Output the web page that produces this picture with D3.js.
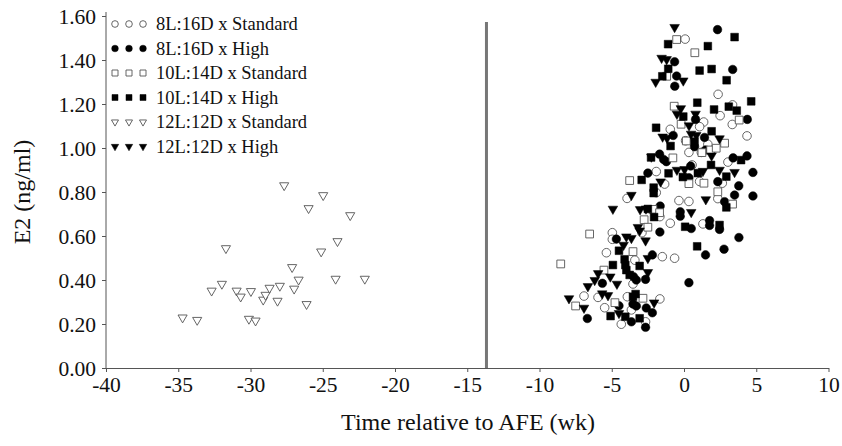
<!DOCTYPE html>
<html>
<head>
<meta charset="utf-8">
<script src="https://cdn.jsdelivr.net/npm/d3@7"></script>
<style>
  body { margin: 0; background: #fff; }
  svg { display: block; font-family: "Liberation Serif", "Times New Roman", serif; }
  .axis path, .axis line { stroke: #555; }
  .axis-title { font-size: 24px; fill: #111; }
  .legend-label { font-size: 18.5px; fill: #111; }
</style>
</head>
<body>
<svg id="chart" width="842" height="446"></svg>
<script>
// tick values
const xTicks = [-40, -35, -30, -25, -20, -15, -10, -5, 0, 5, 10];
const yTicks = [0, 0.2, 0.4, 0.6, 0.8, 1.0, 1.2, 1.4, 1.6];
const afeLine = -13.67;

const seriesNames = [
  '8L:16D x Standard', '8L:16D x High',
  '10L:14D x Standard', '10L:14D x High',
  '12L:12D x Standard', '12L:12D x High'
];

// [week, E2 ng/ml]
const std8L = [
  [0.08,1.495],[2.36,1.244],[3.36,1.196],[2.50,1.147],[3.34,1.107],[1.36,1.118],[1.08,1.097],
  [-0.95,1.085],[4.36,1.055],[0.11,1.033],[1.65,1.017],[0.34,0.980],[1.20,0.980],[0.56,0.923],
  [3.04,0.936],[-1.92,0.893],[-1.34,0.836],[1.08,0.848],[2.65,0.840],[-1.92,0.797],[-3.94,0.771],
  [2.34,0.770],[-0.35,0.761],[0.34,0.757],[-1.67,0.688],[-0.95,0.658],[1.31,0.655],[-4.96,0.615],
  [-4.96,0.585],[-2.91,0.615],[-5.37,0.524],[-1.50,0.506],[-0.65,0.499],[-3.40,0.490],[-3.53,0.382],
  [-6.92,0.327],[-5.95,0.321],[-3.92,0.324],[-1.67,0.314],[-5.49,0.274],[-3.64,0.264],[-4.34,0.199],
  [-2.66,0.210]
];
const high8L = [
  [2.32,1.538],[-0.65,1.392],[3.37,1.357],[-0.51,1.327],[-0.64,1.281],[0.80,1.130],[4.38,1.130],
  [-0.75,1.057],[1.42,1.048],[0.73,1.006],[1.49,0.991],[-1.69,0.972],[-1.41,0.948],[-1.22,0.938],
  [3.40,0.955],[4.36,0.964],[0.46,0.918],[4.77,0.889],[-2.50,0.886],[0.34,0.865],[2.34,0.847],
  [3.79,0.828],[3.50,0.786],[4.77,0.782],[2.81,0.756],[-1.65,0.736],[-0.26,0.710],[-0.26,0.690],
  [1.77,0.670],[1.77,0.648],[0.50,0.634],[2.46,0.630],[-1.67,0.618],[-4.68,0.586],[3.80,0.593],
  [2.77,0.540],[1.49,0.514],[-2.19,0.514],[-3.49,0.415],[-5.65,0.385],[-3.30,0.400],[-2.66,0.403],
  [0.34,0.388],[-4.50,0.283],[-3.53,0.291],[-3.30,0.282],[-2.61,0.273],[-2.19,0.251],[-6.69,0.225],
  [-3.64,0.210],[-2.66,0.185]
];
const std10L = [
  [-0.51,1.493],[0.75,1.433],[-1.20,1.326],[-0.68,1.190],[3.82,1.127],[-0.20,1.108],[0.16,1.032],
  [2.81,1.022],[1.24,0.979],[1.84,0.991],[2.23,0.999],[-0.77,0.955],[-3.76,0.852],[0.34,0.838],
  [1.38,0.840],[2.34,0.801],[3.36,0.745],[-2.15,0.721],[-1.69,0.706],[-2.76,0.674],[-6.53,0.609],
  [-2.50,0.640],[-3.53,0.529],[-8.53,0.473],[-5.54,0.445],[-4.78,0.297],[-2.84,0.317],[-7.50,0.282]
];
const high10L = [
  [3.50,1.504],[-1.10,1.472],[1.65,1.463],[-1.09,1.360],[1.08,1.352],[1.91,1.359],[-1.50,1.326],
  [2.95,1.308],[4.65,1.212],[0.92,1.206],[2.08,1.175],[3.10,1.188],[3.65,1.170],[-0.05,1.143],
  [-1.93,1.092],[1.91,1.076],[-0.93,1.009],[0.73,1.029],[-2.28,0.957],[3.95,0.945],[1.87,0.923],
  [-1.07,0.885],[0.96,0.886],[-0.08,0.868],[2.93,0.870],[-2.93,0.855],[-2.10,0.820],[-2.10,0.795],
  [2.93,0.730],[-2.50,0.723],[-2.07,0.686],[0.08,0.642],[2.46,0.650],[0.91,0.553],[-4.50,0.533],
  [-4.11,0.494],[-4.92,0.468],[-4.06,0.468],[-3.99,0.445],[-3.07,0.464],[-3.76,0.423],[-3.53,0.324],
  [-3.35,0.336],[-5.08,0.236],[-4.06,0.233],[-3.07,0.226]
];
const std12L = [
  [-34.70,0.229],[-33.69,0.218],[-32.69,0.351],[-31.98,0.382],[-31.70,0.544],[-30.96,0.351],
  [-30.68,0.324],[-29.97,0.349],[-30.11,0.223],[-29.65,0.215],[-29.12,0.310],[-28.96,0.332],
  [-28.68,0.364],[-28.13,0.305],[-27.97,0.373],[-27.67,0.830],[-27.12,0.458],[-26.98,0.360],
  [-26.67,0.401],[-26.12,0.290],[-25.98,0.726],[-25.11,0.529],[-24.97,0.785],[-24.11,0.405],
  [-23.98,0.576],[-23.10,0.694],[-22.09,0.405]
];
const high12L = [
  [-0.65,1.549],[-1.55,1.409],[-1.20,1.403],[-1.96,1.300],[-0.05,1.306],[-0.22,1.180],[-0.49,1.155],
  [0.80,1.155],[0.35,1.102],[-1.48,1.051],[-1.17,1.045],[0.49,1.064],[0.85,1.058],[2.46,1.043],
  [-2.26,0.960],[1.91,0.965],[-0.49,0.900],[0.04,0.903],[1.31,0.895],[2.46,0.900],[3.50,0.890],
  [-1.62,0.847],[-3.64,0.786],[1.51,0.766],[-4.92,0.723],[-3.04,0.721],[-2.63,0.724],[0.50,0.708],
  [-3.19,0.640],[-3.07,0.624],[-3.99,0.597],[-3.64,0.590],[-2.66,0.579],[-4.18,0.559],[-2.50,0.499],
  [-2.50,0.435],[-5.94,0.430],[-6.18,0.399],[-6.65,0.371],[-5.10,0.415],[-4.64,0.382],[-7.96,0.316],
  [-5.66,0.338],[-5.26,0.330],[-2.07,0.297],[-6.92,0.273],[-4.50,0.249]
];

class ScatterPlot {

    constructor(_config, _series) {
        this.config = {
            parentElement: _config.parentElement,
            margin: { top: 16, bottom: 78, right: 13, left: 106 }
        }
        this.series = _series;
        this.initVis();
    }

    initVis() {
        let vis = this;

        vis.svg = d3.select(vis.config.parentElement);
        vis.width = 842 - vis.config.margin.left - vis.config.margin.right;
        vis.height = 446 - vis.config.margin.top - vis.config.margin.bottom;

        vis.chart = vis.svg.append('g')
            .attr('transform', `translate(${vis.config.margin.left}, ${vis.config.margin.top})`);

        vis.xScale = d3.scaleLinear().domain([-40, 10]).range([0, vis.width - 0.5]);
        vis.yScale = d3.scaleLinear().domain([0, 1.6]).range([vis.height, 0]);

        vis.xAxis = d3.axisBottom(vis.xScale)
            .tickValues(xTicks)
            .tickSize(4)
            .tickSizeOuter(0)
            .tickPadding(3)
            .tickFormat(d => d);
        vis.yAxis = d3.axisLeft(vis.yScale)
            .tickValues(yTicks)
            .tickSize(4)
            .tickSizeOuter(0)
            .tickPadding(6)
            .tickFormat(d3.format('.2f'));
    }

    renderVis() {
        let vis = this;

        vis.xAxisGroup = vis.chart.append('g')
            .attr('class', 'axis x-axis')
            .attr('transform', `translate(0,${vis.height})`)
            .call(vis.xAxis);
        vis.yAxisGroup = vis.chart.append('g')
            .attr('class', 'axis y-axis')
            .call(vis.yAxis);
        vis.yAxisGroup.select('.domain').attr('d', `M0,-4V${vis.height}`);

        // d3 puts a sans-serif font on the axis group, override it on the labels
        vis.chart.selectAll('.axis')
            .attr('font-family', null)
            .attr('font-size', null);
        vis.chart.selectAll('.axis text')
            .style('font-family', '"Liberation Serif", "Times New Roman", serif')
            .style('font-size', '21.5px')
            .attr('fill', '#111');
        vis.xAxisGroup.selectAll('text').attr('dy', '0.8em');
        vis.yAxisGroup.selectAll('text').attr('dy', '0.35em');

        // AFE reference line
        vis.chart.append('line')
            .attr('x1', vis.xScale(afeLine))
            .attr('x2', vis.xScale(afeLine))
            .attr('y1', 6)
            .attr('y2', vis.height)
            .attr('stroke', '#777')
            .attr('stroke-width', 3);

        vis.series.forEach(s => {
            const sym = d3.symbol().type(s.shape).size(s.size);
            vis.chart.append('g')
                .selectAll('path')
                .data(s.values)
                .join('path')
                    .attr('d', sym)
                    .attr('transform', d => `translate(${vis.xScale(d[0])},${vis.yScale(d[1])})${s.flip ? ' rotate(180)' : ''}`)
                    .attr('fill', s.open ? '#fff' : '#000')
                    .attr('stroke', s.open ? '#555' : '#000')
                    .attr('stroke-width', s.open ? 0.9 : 0.5);
        });

        // legend
        vis.legend = vis.svg.append('g');
        vis.series.forEach((s, i) => {
            const ly = 24 + i * 24.5;
            const sym = d3.symbol().type(s.shape).size(s.size * 0.6);
            [115, 129, 143].forEach(lx => {
                vis.legend.append('path')
                    .attr('d', sym)
                    .attr('transform', `translate(${lx},${ly})${s.flip ? ' rotate(180)' : ''}`)
                    .attr('fill', s.open ? '#fff' : '#000')
                    .attr('stroke', s.open ? '#555' : '#000')
                    .attr('stroke-width', s.open ? 0.9 : 0.5);
            });
            vis.legend.append('text')
                .attr('class', 'legend-label')
                .attr('x', 156)
                .attr('y', ly)
                .attr('dy', '0.35em')
                .text(s.name);
        });

        // axis titles
        vis.svg.append('text')
            .attr('class', 'axis-title')
            .attr('text-anchor', 'middle')
            .attr('x', 468)
            .attr('y', 430)
            .text('Time relative to AFE (wk)');

        const yt = vis.svg.append('text')
            .attr('class', 'axis-title')
            .attr('text-anchor', 'middle')
            .attr('x', 22)
            .attr('y', 192)
            .text('E2 (ng/ml)');
        yt.attr('transform', `rotate(270, ${yt.attr('x')}, ${yt.attr('y')})`)
            .attr('dy', '0.35em');
    }
}

const series = [
    { name: seriesNames[0], values: std8L, shape: d3.symbolCircle, size: 58, open: true },
    { name: seriesNames[1], values: high8L, shape: d3.symbolCircle, size: 58, open: false },
    { name: seriesNames[2], values: std10L, shape: d3.symbolSquare, size: 60, open: true },
    { name: seriesNames[3], values: high10L, shape: d3.symbolSquare, size: 60, open: false },
    { name: seriesNames[4], values: std12L, shape: d3.symbolTriangle, size: 36, open: true, flip: true },
    { name: seriesNames[5], values: high12L, shape: d3.symbolTriangle, size: 40, open: false, flip: true }
];

const plot = new ScatterPlot({ parentElement: '#chart' }, series);
plot.renderVis();
</script>
</body>
</html>
